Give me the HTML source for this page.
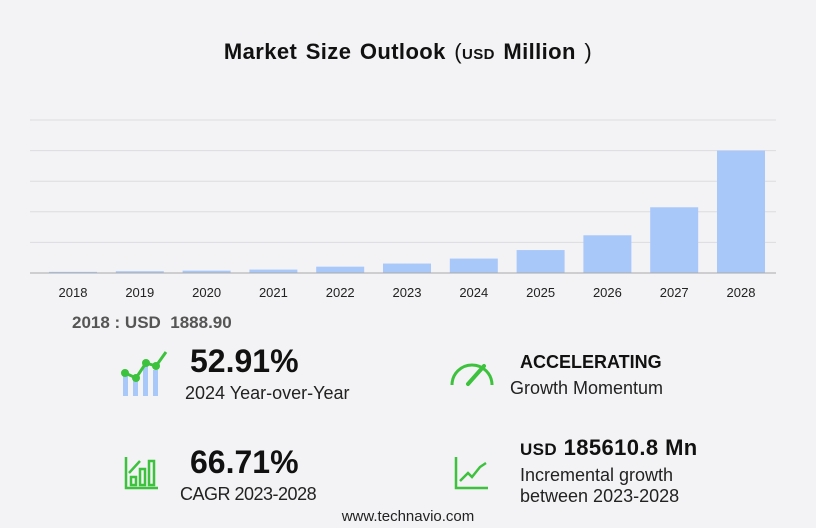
<!DOCTYPE html>
<html><head><meta charset="utf-8"><style>
body{margin:0;width:816px;height:528px;background:#f3f3f5;font-family:"Liberation Sans",sans-serif;position:relative;overflow:hidden}
.a{position:absolute;white-space:nowrap}
</style></head><body>
<div class="a" style="left:0;width:816px;top:39px;text-align:center;font-size:22px;font-weight:bold;color:#111;letter-spacing:0.4px;word-spacing:2px">Market Size Outlook <span style="font-weight:normal">(</span><span style="font-size:15px">USD</span> Million <span style="font-weight:normal">)</span></div>
<svg class="a" style="left:0;top:0" width="816" height="310">
<g id="grid"></g><g id="bars"></g><g id="labels"></g>
<line x1="30" x2="776" y1="273" y2="273" stroke="#aaa" stroke-width="1"/>
</svg>
<script>
const years=["2018","2019","2020","2021","2022","2023","2024","2025","2026","2027","2028"];
const values=[1889,2900,3900,5600,10400,15500,23700,37700,62000,108000,201100];
const gridTicks=[0,50275,100550,150825,201100,251375];
const yMax=251375,base=273,top0=120,x0=40,step=66.8,bw=48;
const y=v=>base-(v/yMax)*(base-top0);
const ns="http://www.w3.org/2000/svg";
const g=document.getElementById('grid'),b=document.getElementById('bars'),l=document.getElementById('labels');
gridTicks.slice(1).forEach(t=>{const e=document.createElementNS(ns,'line');


e.setAttribute('x1',30);e.setAttribute('x2',776);e.setAttribute('y1',y(t));e.setAttribute('y2',y(t));e.setAttribute('stroke','#dcdce0');g.appendChild(e);});
years.forEach((yr,i)=>{const cx=x0+33+i*step;const r=document.createElementNS(ns,'rect');


r.setAttribute('x',cx-bw/2);r.setAttribute('width',bw);r.setAttribute('y',y(values[i]));r.setAttribute('height',base-y(values[i]));r.setAttribute('fill','#a8c8fa');b.appendChild(r);
const t=document.createElementNS(ns,'text');


t.setAttribute('x',cx);t.setAttribute('y',297);t.setAttribute('text-anchor','middle');t.setAttribute('font-size','13');t.setAttribute('fill','#222');t.setAttribute('font-family','Liberation Sans');t.textContent=yr;l.appendChild(t);});
</script>
<div class="a" style="left:72px;top:313px;font-size:17px;font-weight:bold;color:#555">2018 : USD&nbsp; 1888.90</div>
<svg class="a" style="left:118px;top:348px" width="54" height="50">
<rect x="5" y="22" width="5" height="26" fill="#a8c8fa"/><rect x="15" y="30" width="5" height="18" fill="#a8c8fa"/><rect x="25" y="16" width="5" height="32" fill="#a8c8fa"/><rect x="35" y="22" width="5" height="26" fill="#a8c8fa"/>
<polyline points="7,25 18,30 28,15 38,18 48,4" fill="none" stroke="#3cc23c" stroke-width="3"/>
<circle cx="7" cy="25" r="4" fill="#3cc23c"/><circle cx="18" cy="30" r="4" fill="#3cc23c"/><circle cx="28" cy="15" r="4" fill="#3cc23c"/><circle cx="38" cy="18" r="4" fill="#3cc23c"/>
</svg>
<div class="a" style="left:190px;top:343px;font-size:32px;font-weight:bold;color:#111">52.91%</div>
<div class="a" style="left:185px;top:383px;font-size:18px;color:#222">2024 Year-over-Year</div>
<svg class="a" style="left:448px;top:358px" width="48" height="30">
<path d="M4,27 A20,20 0 0 1 44,27" fill="none" stroke="#3cc23c" stroke-width="3"/>
<line x1="20" y1="26" x2="36" y2="8" stroke="#3cc23c" stroke-width="4" stroke-linecap="round"/>
</svg>
<div class="a" style="left:520px;top:352px;font-size:18px;font-weight:bold;color:#111">ACCELERATING</div>
<div class="a" style="left:510px;top:378px;font-size:18px;color:#222">Growth Momentum</div>
<svg class="a" style="left:124px;top:455px" width="36" height="36" fill="none" stroke="#3cc23c" stroke-width="2.5">
<polyline points="2,2 2,33 34,33"/><rect x="7" y="22" width="5" height="8"/><rect x="16" y="14" width="5" height="16"/><rect x="25" y="6" width="5" height="24"/><line x1="5" y1="18" x2="16" y2="6"/>
</svg>
<div class="a" style="left:190px;top:444px;font-size:32px;font-weight:bold;color:#111">66.71%</div>
<div class="a" style="left:180px;top:484px;font-size:18px;color:#222;letter-spacing:-0.5px">CAGR 2023-2028</div>
<svg class="a" style="left:454px;top:455px" width="36" height="36" fill="none" stroke="#3cc23c" stroke-width="2.5">
<polyline points="2,2 2,33 34,33"/><polyline points="6,26 14,18 18,22 26,12 32,8"/>
</svg>
<div class="a" style="left:520px;top:435px;font-size:22px;font-weight:bold;color:#111;letter-spacing:0.4px"><span style="font-size:17px">USD</span> 185610.8 Mn</div>
<div class="a" style="left:520px;top:465px;font-size:18px;color:#222;line-height:21px">Incremental growth<br>between 2023-2028</div>
<div class="a" style="left:0;width:816px;text-align:center;top:508px;font-size:15px;color:#222">www.technavio.com</div>
</body></html>
